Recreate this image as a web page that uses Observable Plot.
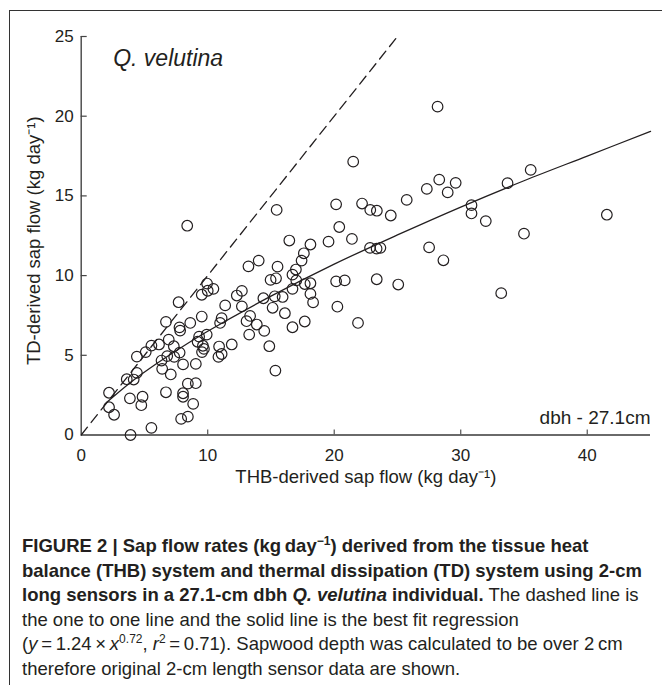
<!DOCTYPE html>
<html><head><meta charset="utf-8">
<script src="https://cdn.jsdelivr.net/npm/d3@7"></script>
<script src="https://cdn.jsdelivr.net/npm/@observablehq/plot@0.6"></script>
<style>
body{margin:0;background:#fff;width:662px;height:685px;overflow:hidden;position:relative;font-family:"Liberation Sans",Arial,sans-serif;color:#231f20}
#frame{position:absolute;left:9px;top:10px;width:720px;height:720px;border-left:1px solid #333;border-top:1px solid #333}
#chart{position:absolute;left:0;top:0}
.cap{position:absolute;left:22px;white-space:nowrap;font-family:"Liberation Sans",Arial,sans-serif;font-size:18.5px;line-height:22px;color:#231f20}
.cap b{font-weight:bold}
.cap sup{font-size:65%;line-height:0;vertical-align:0.55em}
</style></head>
<body>
<div id="frame"></div>
<div id="chart"></div>
<div class="cap" style="top:535px"><b>FIGURE 2 | Sap flow rates (kg&#8201;day<sup>−1</sup>) derived from the tissue heat</b></div>
<div class="cap" style="top:559.5px"><b>balance (THB) system and thermal dissipation (TD) system using 2-cm</b></div>
<div class="cap" style="top:584px"><b>long sensors in a 27.1-cm dbh <i>Q. velutina</i> individual.</b> The dashed line is</div>
<div class="cap" style="top:608.5px">the one to one line and the solid line is the best fit regression</div>
<div class="cap" style="top:633px">(<i>y</i>&#8201;=&#8201;1.24&#8201;×&#8201;<i>x</i><sup>0.72</sup>, <i>r</i><sup>2</sup>&#8201;=&#8201;0.71). Sapwood depth was calculated to be over 2&#8201;cm</div>
<div class="cap" style="top:657.5px">therefore original 2-cm length sensor data are shown.</div>
<script>
// THB-derived sap flow (x) and TD-derived sap flow (y), kg/day
const thbFlow = [2.2,2.2,2.6,3.6,4.15,3.9,3.85,4.4,4.4,4.75,4.85,5.1,5.55,5.55,6.15,6.35,6.4,6.7,6.7,6.8,6.92,7.08,7.32,7.35,7.7,7.77,7.82,7.78,7.9,8.05,8.05,8.05,8.43,8.43,8.62,8.85,9.06,9.06,9.2,9.32,9.53,9.53,9.55,9.62,9.7,9.92,9.95,10.0,10.45,10.85,10.9,10.98,11.1,11.1,11.38,11.9,12.3,12.7,12.7,13.07,13.22,13.28,13.35,13.88,14.03,14.4,14.47,14.87,14.97,15.13,15.35,15.4,15.52,15.3,15.92,16.1,16.45,16.7,16.7,16.7,16.97,17.0,17.42,17.6,17.67,17.67,18.12,18.12,18.12,18.33,19.55,20.15,20.25,
8.38,15.45,20.15,20.4,21.4,21.5,22.2,22.85,23.37,24.47,25.73,27.32,28.17,28.3,28.97,29.6,22.83,23.35,23.65,27.5,28.63,20.83,23.36,25.06,21.88,30.85,30.85,31.98,33.2,33.7,35.0,35.53,41.55];
const tdFlow = [2.65,1.74,1.27,3.5,3.48,0.0,2.3,3.9,4.92,1.87,2.4,5.2,0.45,5.61,5.68,4.67,4.15,7.1,2.68,4.95,5.98,3.8,5.57,4.9,8.33,6.75,6.55,5.17,1.01,4.43,2.62,2.4,1.15,3.22,7.03,1.95,4.46,3.25,5.85,6.17,8.8,7.43,5.2,5.6,5.4,6.3,9.5,9.05,9.17,4.9,5.55,7.03,7.33,5.08,8.13,5.68,8.75,9.04,8.07,7.14,10.58,6.3,7.47,6.93,10.94,8.58,6.53,5.57,9.73,7.98,4.04,9.83,10.56,8.7,8.66,7.64,12.2,6.76,10.06,9.17,10.38,9.7,10.94,11.4,7.12,9.47,11.95,9.52,8.85,8.32,12.13,9.64,8.05,
13.13,14.12,14.47,13.05,12.3,17.15,14.52,14.12,14.07,13.77,14.75,15.44,20.6,16.02,15.22,15.82,11.74,11.69,11.74,11.77,10.96,9.7,9.77,9.44,7.03,14.42,13.9,13.42,8.9,15.8,12.63,16.63,13.82];
// best-fit regression curve (y = 1.24 x^0.72)
const fitX = [2,4,6,8,10,15,20,25,30,35,40,45];
const fitY = [2.04,3.36,4.5,5.54,6.51,8.71,10.72,12.55,14.3,15.95,17.5,19.05];
// one-to-one line
const oneX = [0,25];
const oneY = [0,25];
const xTicks = [10,20,30,40];
const yTicks = [5,10,15,20,25];
const xTickLabels = [0,10,20,30,40];
const yTickLabels = [0,5,10,15,20,25];

const points = thbFlow.map((x,i)=>({x, y: tdFlow[i]}));
const fit = fitX.map((x,i)=>({x, y: fitY[i]}));
const one = oneX.map((x,i)=>({x, y: oneY[i]}));

const W=662, H=500, mL=80.7, mR=12, mT=36, mB=65.5;
const plotW=W-mL-mR, plotH=H-mT-mB;
const ink="#231f20";
const chart = Plot.plot({
  width:W, height:H, marginLeft:mL, marginRight:mR, marginTop:mT, marginBottom:mB,
  x:{domain:[0,45]}, y:{domain:[0,25]},
  style:{fontFamily:'"Liberation Sans",Arial,sans-serif', fontSize:"17px", color:ink, background:"transparent", overflow:"visible"},
  marks:[
    Plot.ruleX([0],{stroke:"#444", strokeWidth:1.4}),
    Plot.ruleY([0],{stroke:"#6a6a6a", strokeWidth:2}),
    Plot.tickX(xTicks,{x:d=>d, stroke:"#555", strokeWidth:1.2, insetTop:plotH-5}),
    Plot.tickY(yTicks,{y:d=>d, stroke:"#444", strokeWidth:1.2, insetRight:plotW-6}),
    Plot.axisX(xTickLabels,{tickSize:0, tickPadding:14, fontSize:17, label:null}),
    Plot.axisY(yTickLabels,{tickSize:0, tickPadding:7.5, fontSize:17, label:null}),
    Plot.line(one,{x:"x", y:"y", stroke:ink, strokeWidth:1.3, strokeDasharray:"10,6"}),
    Plot.line(fit,{x:"x", y:"y", stroke:ink, strokeWidth:1.3, curve:"catmull-rom"}),
    Plot.dot(points,{x:"x", y:"y", r:5.3, stroke:ink, strokeWidth:1.2, fill:"none"}),
    Plot.text(["THB-derived sap flow (kg day⁻¹)"],{frameAnchor:"bottom", dy:42.5, lineAnchor:"middle", fontSize:18.5, fill:ink}),
    Plot.text(["TD-derived sap flow (kg day⁻¹)"],{frameAnchor:"left", dx:-46.7, dy:5, rotate:-90, textAnchor:"middle", lineAnchor:"middle", fontSize:18.5, fill:ink}),
    Plot.text(["Q. velutina"],{frameAnchor:"top-left", dx:32, dy:29, textAnchor:"start", lineAnchor:"bottom", fontSize:23, fontStyle:"italic", fill:ink}),
    Plot.text(["dbh - 27.1cm"],{frameAnchor:"bottom-right", dx:0, dy:-11.5, textAnchor:"end", lineAnchor:"bottom", fontSize:19, fill:ink})
  ]
});
document.getElementById("chart").appendChild(chart);
</script>
</body></html>
